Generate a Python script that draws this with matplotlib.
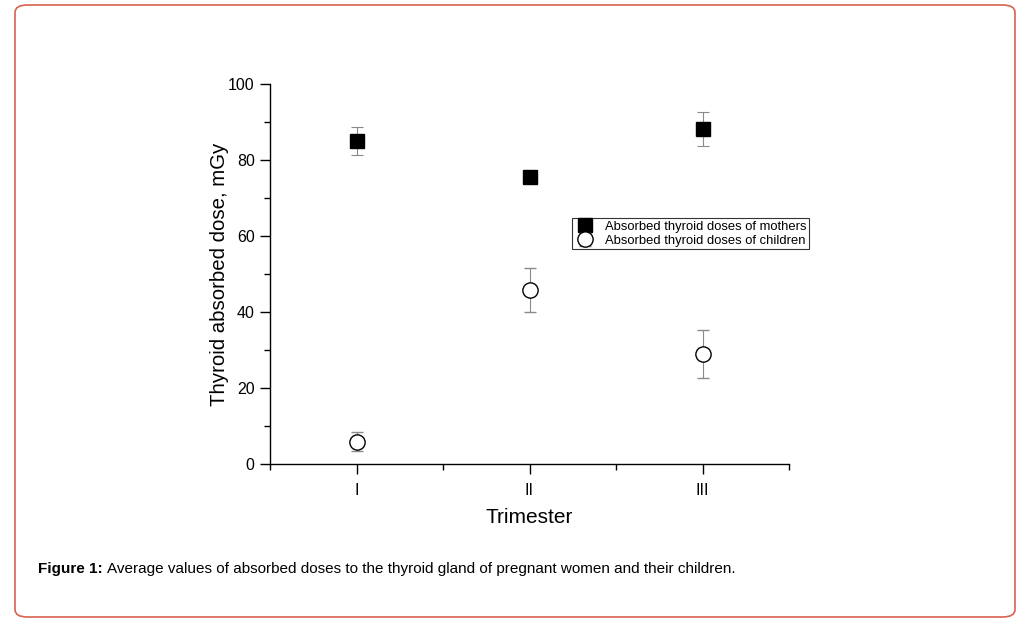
import matplotlib
matplotlib.use("Agg")
import matplotlib.pyplot as plt
from matplotlib.patches import FancyBboxPatch
from matplotlib.ticker import MultipleLocator

plt.rcParams['font.family'] = ['Liberation Sans', 'DejaVu Sans']

trimesters = ["I", "II", "III"]
mothers = [85.0, 75.6, 88.2]
mothers_err = [3.6, 0.7, 4.5]
children = [5.9, 45.8, 28.9]
children_err = [2.6, 5.8, 6.3]

W, H = 1030, 622
fig = plt.figure(figsize=(W/100, H/100), dpi=100)

# outer frame
frame = FancyBboxPatch((15/W, 5/H), 1000/W, 612/H,
                       boxstyle="round,pad=0,rounding_size=0.012",
                       transform=fig.transFigure, fill=False,
                       edgecolor="#d9614f", linewidth=1.2)
fig.patches.append(frame)

ax = fig.add_axes([270/W, 1 - 464/H, 519/W, 380/H])
x = [1, 2, 3]

ax.errorbar(x, mothers, yerr=mothers_err, fmt='s', color='black',
            markersize=10.5, ecolor='#8a8a8a', elinewidth=0.8, capsize=4,
            capthick=0.8, label="Absorbed thyroid doses of mothers", zorder=3)
ax.errorbar(x, children, yerr=children_err, fmt='o', mfc='white', mec='black',
            mew=1.0, markersize=11, ecolor='#8a8a8a', elinewidth=0.8, capsize=4,
            capthick=0.8, label="Absorbed thyroid doses of children", zorder=3)

ax.set_xlim(0.5, 3.5)
ax.set_ylim(0, 100)
ax.set_xticks(x)
ax.set_xticklabels(trimesters)
ax.xaxis.set_minor_locator(MultipleLocator(0.5))
ax.yaxis.set_major_locator(MultipleLocator(20))
ax.yaxis.set_minor_locator(MultipleLocator(10))
ax.spines['top'].set_visible(False)
ax.spines['right'].set_visible(False)
for s in ('left', 'bottom'):
    ax.spines[s].set_linewidth(1.0)
ax.tick_params(axis='both', which='major', direction='out', length=7, width=1.0,
               labelsize=11.5, pad=4)
ax.tick_params(axis='both', which='minor', direction='out', length=4, width=1.0)
ax.tick_params(axis='x', which='major', pad=7)

ax.set_xlabel("Trimester", fontsize=15, labelpad=7)
ax.set_ylabel("Thyroid absorbed dose, mGy", fontsize=14.7, labelpad=-0.5)

leg = ax.legend(loc='upper left', bbox_to_anchor=((572-270)/519, (464-218)/380),
                fontsize=9.4, frameon=True, fancybox=False, edgecolor='black',
                borderpad=0.2, handletextpad=0.7, labelspacing=0.15,
                borderaxespad=0, handlelength=1.6)
leg.get_frame().set_linewidth(0.8)
for h in leg.legend_handles:
    try:
        h.set_markersize(9)
    except Exception:
        pass

t1 = fig.text(38/W, 1 - 569/H, "Figure 1:", fontsize=11, va='center', ha='left', fontweight='bold')
fig.canvas.draw()
bb = t1.get_window_extent()
fig.text((bb.x1 + 4)/W, 1 - 569/H,
         "Average values of absorbed doses to the thyroid gland of pregnant women and their children.",
         fontsize=11, va='center', ha='left')

fig.savefig("out.png", dpi=100)
